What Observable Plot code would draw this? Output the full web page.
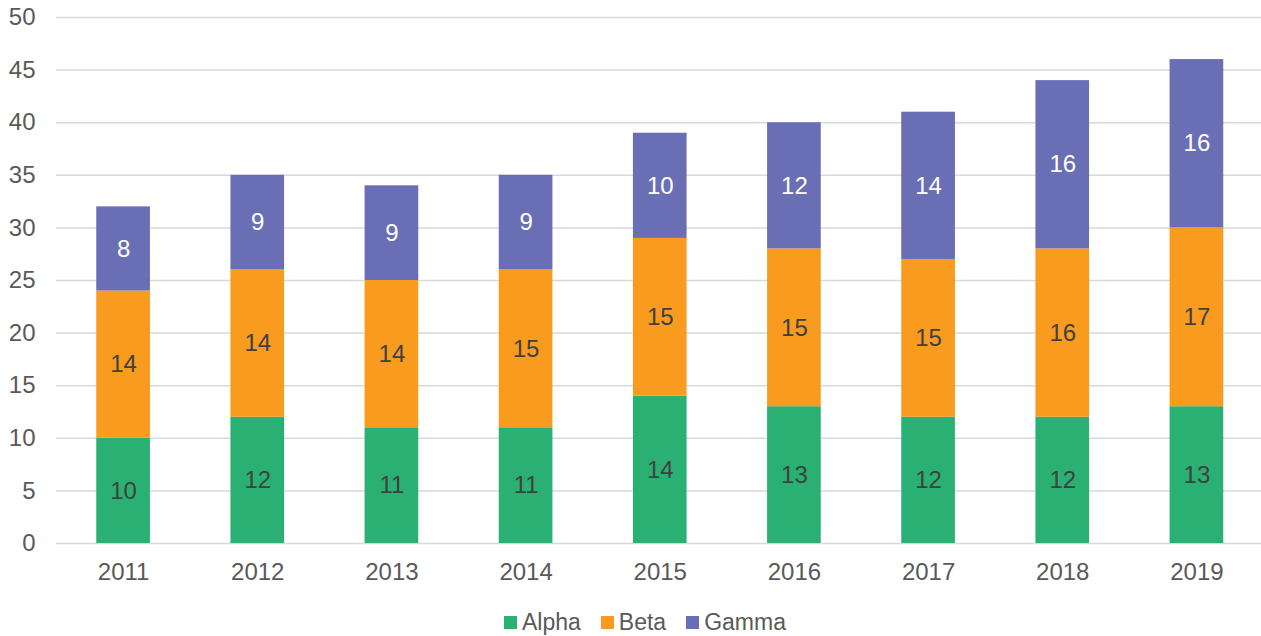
<!DOCTYPE html>
<html>
<head>
<meta charset="utf-8">
<script src="https://cdn.jsdelivr.net/npm/d3@7"></script>
<script src="https://cdn.jsdelivr.net/npm/@observablehq/plot@0.6"></script>
<style>
  html, body { margin: 0; padding: 0; background: #fff; }
  #chart { width: 1261px; height: 636px; overflow: hidden; font-family: "Liberation Sans", Arial, sans-serif; }
  #legend { display: flex; justify-content: center; align-items: center; height: 28px; padding-top: 13px; padding-left: 29px; font-size: 23px; color: #595959; }
  .item { display: flex; align-items: center; margin: 0 10px; }
  .sw { width: 13px; height: 13px; margin-right: 5px; }
</style>
</head>
<body>
<div id="chart"></div>
<script>
const years = ["2011", "2012", "2013", "2014", "2015", "2016", "2017", "2018", "2019"];
const seriesNames = ["Alpha", "Beta", "Gamma"];
const alpha = [10, 12, 11, 11, 14, 13, 12, 12, 13];
const beta = [14, 14, 14, 15, 15, 15, 15, 16, 17];
const gamma = [8, 9, 9, 9, 10, 12, 14, 16, 16];
const colors = ["#2BB074", "#F99B1F", "#6A6EB5"];
const yTicks = [0, 5, 10, 15, 20, 25, 30, 35, 40, 45, 50];

const seriesValues = [alpha, beta, gamma];
const data = years.flatMap((year, i) =>
  seriesNames.map((s, k) => ({ year, series: s, value: seriesValues[k][i] }))
);

const plot = Plot.plot({
  width: 1261,
  height: 595,
  marginLeft: 56,
  marginRight: 0,
  marginTop: 17,
  marginBottom: 52,
  style: { fontFamily: "'Liberation Sans', Arial, sans-serif", fontSize: "24px", color: "#595959", background: "#fff" },
  x: { domain: years, paddingInner: 0.6, paddingOuter: 0.3, round: false, range: [56, 1263.5], label: null },
  y: { domain: [0, 50], label: null },
  color: { domain: seriesNames, range: colors },
  marks: [
    Plot.gridY(yTicks, { stroke: "#d9d9d9", strokeOpacity: 1, strokeWidth: 1.5 }),
    Plot.axisY(yTicks, { tickSize: 0, tickPadding: 21, label: null, fill: "#595959" }),
    Plot.axisX({ tickSize: 0, tickPadding: 19, label: null, fill: "#595959" }),
    Plot.barY(data, { x: "year", y: "value", fill: "series", order: seriesNames }),
    Plot.text(data, Plot.stackY({
      x: "year", y: "value", z: "series", order: seriesNames,
      text: d => String(d.value),
      fill: d => d.series === "Gamma" ? "#ffffff" : "#404040",
      fontSize: 24
    }))
  ]
});
document.getElementById("chart").appendChild(plot);

const legend = document.createElement("div");
legend.id = "legend";
seriesNames.forEach((s, k) => {
  const item = document.createElement("div");
  item.className = "item";
  const sw = document.createElement("div");
  sw.className = "sw";
  sw.style.background = colors[k];
  const label = document.createElement("span");
  label.textContent = s;
  item.appendChild(sw);
  item.appendChild(label);
  legend.appendChild(item);
});
document.getElementById("chart").appendChild(legend);
</script>
</body>
</html>
